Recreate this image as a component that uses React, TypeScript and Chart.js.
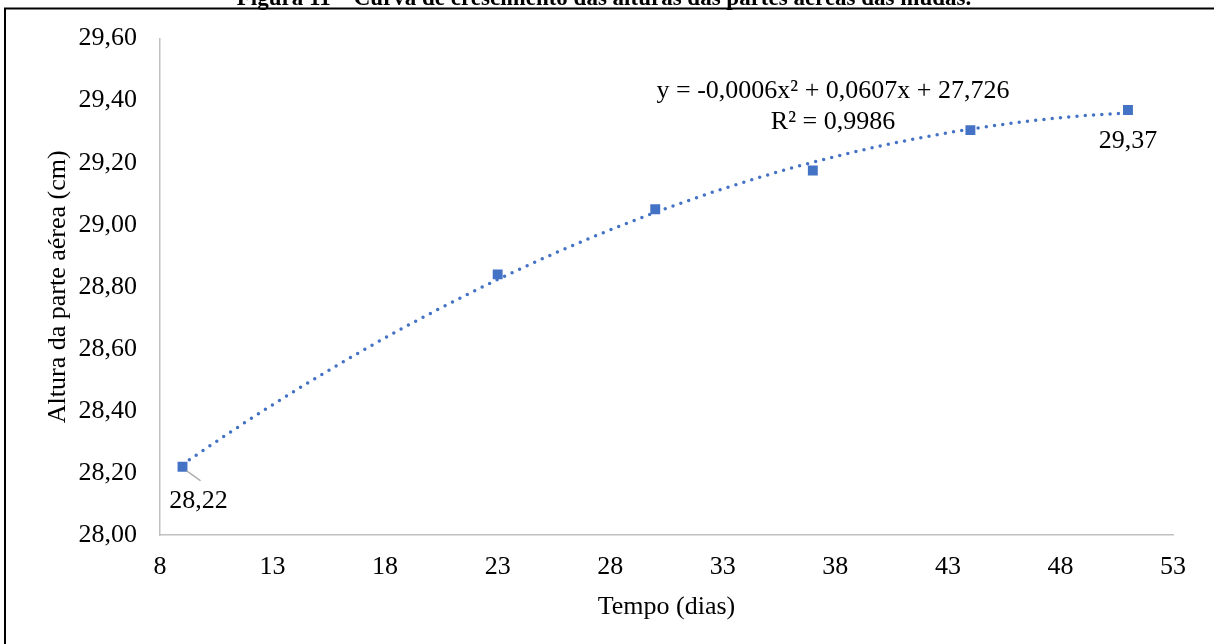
import React, { useEffect, useRef } from "react";
import { Chart, registerables } from "chart.js";

Chart.register(...registerables);

// ---- data ----
const days = [9, 23, 30, 37, 44, 51];
const heights = [28.22, 28.84, 29.05, 29.175, 29.305, 29.37];
const labeledPoints = [0, 5];
const xRange = [8, 53];
const xStep = 5;
const yRange = [28, 29.6];
const yStep = 0.2;
const equationLines = ["y = -0,0006x² + 0,0607x + 27,726", "R² = 0,9986"];
const titleText = "Figura 11 – Curva de crescimento das alturas das partes aéreas das mudas.";
const xTitle = "Tempo (dias)";
const yTitle = "Altura da parte aérea (cm)";

const SERIF = '"Liberation Serif", "Times New Roman", serif';
const BLUE = "#4472C4";

// least-squares quadratic fit (Excel polynomial trendline) of the data
function quadFit(xs: number[], ys: number[]) {
  let n = xs.length, s1 = 0, s2 = 0, s3 = 0, s4 = 0, t0 = 0, t1 = 0, t2 = 0;
  for (let i = 0; i < n; i++) {
    const x = xs[i], y = ys[i];
    s1 += x; s2 += x * x; s3 += x * x * x; s4 += x * x * x * x;
    t0 += y; t1 += x * y; t2 += x * x * y;
  }
  const M = [
    [n, s1, s2],
    [s1, s2, s3],
    [s2, s3, s4],
  ];
  const R = [t0, t1, t2];
  const det = (m: number[][]) =>
    m[0][0] * (m[1][1] * m[2][2] - m[1][2] * m[2][1]) -
    m[0][1] * (m[1][0] * m[2][2] - m[1][2] * m[2][0]) +
    m[0][2] * (m[1][0] * m[2][1] - m[1][1] * m[2][0]);
  const D = det(M);
  const coef = [0, 1, 2].map((c) => {
    const m = M.map((row, r) => row.map((v, k) => (k === c ? R[r] : v)));
    return det(m) / D;
  });
  return (x: number) => coef[0] + coef[1] * x + coef[2] * x * x;
}

const fmt = (v: number) => Number(v).toFixed(2).replace(".", ",");

const decorPlugin = {
  id: "decor",
  beforeDraw(chart: any) {
    const ctx = chart.ctx;
    ctx.save();
    ctx.fillStyle = "#fff";
    ctx.fillRect(0, 0, chart.width, chart.height);
    // outer frame
    ctx.strokeStyle = "#000";
    ctx.lineWidth = 2;
    ctx.strokeRect(5, 8.5, chart.width + 20, chart.height + 20);
    // figure title (cut by the top edge)
    ctx.fillStyle = "#000";
    ctx.font = `bold 23px ${SERIF}`;
    ctx.textAlign = "center";
    ctx.textBaseline = "alphabetic";
    ctx.fillText(titleText, 604, 5);
    ctx.restore();
  },
  afterDatasetsDraw(chart: any) {
    const ctx = chart.ctx;
    const xs = chart.scales.x;
    const ys = chart.scales.y;
    ctx.save();
    ctx.fillStyle = "#000";
    ctx.font = `26px ${SERIF}`;
    ctx.textAlign = "center";
    ctx.textBaseline = "middle";
    // trendline equation
    ctx.fillText(equationLines[0], 833, 91);
    ctx.fillText(equationLines[1], 833, 122);
    // data labels
    labeledPoints.forEach((i, k) => {
      const px = xs.getPixelForValue(days[i]);
      const py = ys.getPixelForValue(heights[i]);
      if (k === 0) {
        ctx.strokeStyle = "#A6A6A6";
        ctx.lineWidth = 1.5;
        ctx.beginPath();
        ctx.moveTo(px + 4, py + 4);
        ctx.lineTo(px + 18, py + 14);
        ctx.stroke();
        ctx.fillText(fmt(heights[i]), px + 16, py + 34);
      } else {
        ctx.fillText(fmt(heights[i]), px, py + 31);
      }
    });
    ctx.restore();
  },
};

export default function App() {
  const ref = useRef<HTMLCanvasElement>(null);
  useEffect(() => {
    document.body.style.margin = "0";
    const fit = quadFit(days, heights);
    const trend: { x: number; y: number }[] = [];
    for (let x = days[0]; x <= days[days.length - 1] + 1e-9; x += 0.25) {
      trend.push({ x, y: fit(x) });
    }
    const tickFont = { family: SERIF, size: 26 };
    const chart = new Chart(ref.current!, {
      type: "scatter",
      data: {
        datasets: [
          {
            label: "Altura",
            data: days.map((d, i) => ({ x: d, y: heights[i] })),
            showLine: false,
            pointStyle: "rect",
            pointRadius: 7,
            pointBackgroundColor: BLUE,
            pointBorderColor: BLUE,
            pointBorderWidth: 0,
            order: 0,
          },
          {
            label: "Tendência",
            data: trend,
            showLine: true,
            borderColor: BLUE,
            borderWidth: 3.5,
            borderDash: [0, 8.3],
            borderCapStyle: "round",
            pointRadius: 0,
            fill: false,
            order: 1,
          },
        ],
      },
      options: {
        animation: false,
        responsive: false,
        devicePixelRatio: 1,
        layout: { padding: { left: 0, top: 38, right: 41, bottom: 0 } },
        plugins: {
          legend: { display: false },
          tooltip: { enabled: false },
          title: { display: false },
        },
        scales: {
          x: {
            type: "linear",
            min: xRange[0],
            max: xRange[1],
            ticks: { stepSize: xStep, color: "#000", font: tickFont, padding: 17, maxRotation: 0 },
            grid: { display: false, drawTicks: false },
            border: { display: true, color: "#C0C0C0", width: 1.5 },
            title: { display: true, text: xTitle, color: "#000", font: tickFont, padding: { top: 0, bottom: 21 } },
            afterFit: (s: any) => { s.height = 109; },
          },
          y: {
            type: "linear",
            min: yRange[0],
            max: yRange[1],
            ticks: { stepSize: yStep, color: "#000", font: tickFont, padding: 23, callback: (v: any) => fmt(v) },
            grid: { display: false, drawTicks: false },
            border: { display: true, color: "#C0C0C0", width: 1.5 },
            title: { display: true, text: yTitle, color: "#000", font: tickFont, padding: { top: 43, bottom: 0 } },
            afterFit: (s: any) => { s.width = 160; },
          },
        },
      } as any,
      plugins: [decorPlugin],
    });
    return () => chart.destroy();
  }, []);
  return <canvas ref={ref} width={1214} height={644} style={{ display: "block" }} />;
}
